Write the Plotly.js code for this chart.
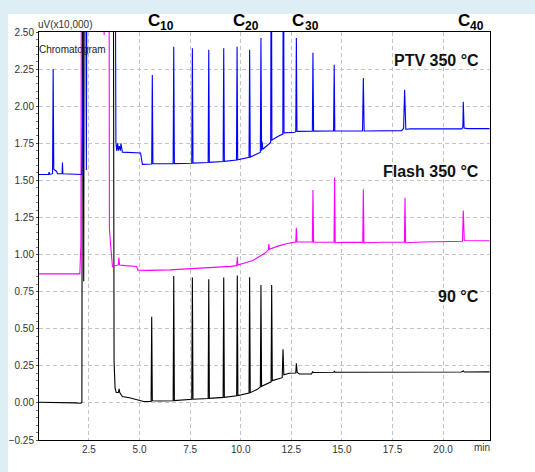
<!DOCTYPE html>
<html>
<head>
<meta charset="utf-8">
<script src="https://cdn.plot.ly/plotly-3.0.1.min.js"></script>
<style>
  html, body { margin: 0; padding: 0; background: #ddeef5; }
  #panel { position: absolute; left: 8px; top: 14px; width: 527px; height: 458px; background: #ffffff; }
  #chart { position: absolute; left: 0; top: 0; width: 535px; height: 472px; }
</style>
</head>
<body>
<div id="panel"></div>
<div id="chart"></div>
<script>
// ---- data (time in min, signal in uV x10,000) ----
// values above 2.5 are off-scale (clipped by the axis range)
const ptvTime = [0, 0.50, 0.53, 0.56, 0.70, 0.73, 0.76, 0.90, 0.95, 1.17, 1.19, 1.21, 2.15, 2.20, 2.33, 2.37, 2.41,
  3.79, 3.83, 3.87, 3.92, 3.95, 4.00, 4.05, 4.08, 4.15, 4.60, 5.05, 5.14,
  5.60, 5.63, 5.66, 6.66, 6.69, 6.72, 7.58, 7.61, 7.64, 8.39, 8.42, 8.45, 9.13, 9.16, 9.19,
  9.79, 9.82, 9.85, 10.41, 10.44, 10.47, 10.90, 10.97, 11.00, 11.03, 11.06, 11.09,
  11.45, 11.48, 11.51, 11.54, 11.90, 12.05, 12.08, 12.11, 12.14, 12.68, 12.72, 12.75, 12.78,
  13.54, 13.57, 13.60, 14.59, 14.62, 14.65, 16.02, 16.06, 16.10, 17.95, 18.05, 18.10, 18.16, 18.40,
  20.93, 20.98, 21.00, 21.04, 21.20, 22.30];
const ptvSignal = [1.54, 1.54, 1.555, 1.54, 1.545, 2.25, 1.575, 1.56, 1.545, 1.545, 1.62, 1.545, 1.54, 3.5, 3.5, 1.57, 3.5,
  3.5, 1.76, 1.70, 1.75, 1.70, 1.73, 1.70, 1.75, 1.69, 1.69, 1.685, 1.608,
  1.61, 2.21, 1.612, 1.612, 2.40, 1.613, 1.615, 2.39, 1.616, 1.62, 2.38, 1.621, 1.627, 2.39, 1.628,
  1.637, 2.40, 1.638, 1.655, 2.38, 1.657, 1.685, 1.69, 2.46, 1.70, 1.76, 1.71,
  1.75, 1.755, 3.5, 1.772, 1.80, 1.81, 1.812, 3.5, 1.82, 1.824, 1.83, 2.46, 1.83,
  1.832, 2.36, 1.832, 1.833, 2.28, 1.833, 1.833, 2.19, 1.833, 1.835, 1.85, 2.11, 1.845, 1.847,
  1.847, 1.86, 2.03, 1.852, 1.849, 1.849];

const flashTime = [0, 1.00, 2.05, 2.08, 2.10, 2.13, 3.22, 3.25, 3.28, 3.49, 3.51, 3.55, 3.60, 3.66, 3.80, 3.95, 3.98, 4.01,
  4.30, 4.85, 4.92, 5.50, 6.50, 7.50, 8.50, 9.50, 9.80, 9.83, 9.86, 10.30, 10.60, 10.90, 11.20,
  11.36, 11.39, 11.42, 11.80, 12.30, 12.72, 12.75, 12.78, 13.54, 13.57, 13.60, 14.00, 14.61, 14.64, 14.67,
  15.00, 16.03, 16.06, 16.09, 17.00, 18.09, 18.12, 18.15, 19.00, 20.96, 21.00, 21.05, 22.30];
const flashSignal = [0.87, 0.872, 0.87, 1.00, 1.05, 3.5, 3.5, 2.48, 3.5, 3.5, 1.18, 1.10, 1.00, 0.918, 0.925, 0.93, 0.98, 0.93,
  0.925, 0.92, 0.895, 0.893, 0.897, 0.903, 0.91, 0.92, 0.925, 0.985, 0.93, 0.945, 0.96, 0.985, 1.01,
  1.03, 1.07, 1.035, 1.055, 1.075, 1.085, 1.18, 1.085, 1.085, 1.435, 1.083, 1.082, 1.083, 1.52, 1.08,
  1.082, 1.082, 1.44, 1.08, 1.083, 1.083, 1.383, 1.08, 1.085, 1.09, 1.296, 1.095, 1.093];

const cold90Time = [0, 1.70, 1.80, 2.10, 2.15, 2.18, 2.21, 2.24, 2.27, 3.70, 3.74, 3.79, 3.85, 3.95, 3.99, 4.02, 4.06,
  4.15, 4.50, 5.00, 5.20, 5.57, 5.60, 5.63, 6.00, 6.66, 6.69, 6.72, 7.58, 7.61, 7.64, 8.39, 8.42, 8.45,
  9.13, 9.16, 9.19, 9.80, 9.83, 9.86, 10.41, 10.44, 10.47, 10.80, 10.97, 11.00, 11.03, 11.50, 11.53, 11.56,
  12.05, 12.09, 12.13, 12.40, 12.72, 12.75, 12.79, 12.90, 13.50, 13.55, 13.60, 14.60, 14.63, 14.66,
  16.00, 17.00, 18.00, 20.90, 21.00, 21.05, 22.30];
const cold90Signal = [0.005, 0.005, 0.0, -0.002, 0.005, 3.5, 3.5, 0.82, 3.5, 3.5, 0.28, 0.10, 0.07, 0.07, 0.095, 0.07, 0.06,
  0.043, 0.035, 0.02, 0.01, 0.01, 0.58, 0.015, 0.013, 0.015, 0.856, 0.016, 0.024, 0.845, 0.025, 0.030, 0.834, 0.031,
  0.037, 0.845, 0.038, 0.048, 0.858, 0.049, 0.067, 0.847, 0.069, 0.09, 0.108, 0.795, 0.112, 0.142, 0.795, 0.150,
  0.17, 0.362, 0.19, 0.20, 0.202, 0.267, 0.205, 0.195, 0.195, 0.21, 0.205, 0.207, 0.215, 0.207,
  0.207, 0.208, 0.208, 0.208, 0.215, 0.208, 0.209];

const xTickStart = 2.5, xTickStep = 2.5;   // tick labels 2.5, 5.0, ... 20.0
const carbonLetter = 'C';
const carbonNumbers = ['10', '20', '30', '40'];
const carbonLabelTime = [5.30, 9.50, 12.44, 20.62];
const runLabels = ['PTV 350 °C', 'Flash 350 °C', '90 °C'];
const runLabelLevel = [2.31, 1.56, 0.714];

const FONT = 'Liberation Sans, Arial, sans-serif';

const traces = [
  { x: cold90Time, y: cold90Signal, mode: 'lines', line: { color: '#000000', width: 1.1 } },
  { x: flashTime, y: flashSignal, mode: 'lines', line: { color: '#ff00ff', width: 1.1 } },
  { x: ptvTime, y: ptvSignal, mode: 'lines', line: { color: '#0000ff', width: 1.1 } }
];

const annotations = [];
carbonNumbers.forEach((n, i) => {
  annotations.push({
    text: '<b>' + carbonLetter + '</b>', xref: 'x', yref: 'paper', x: carbonLabelTime[i], y: 1.027,
    xanchor: 'left', yanchor: 'middle', showarrow: false,
    font: { family: FONT, size: 17, color: '#000' }
  });
  annotations.push({
    text: '<b>' + n + '</b>', xref: 'x', yref: 'paper', x: carbonLabelTime[i], y: 1.0135, xshift: 12.5,
    xanchor: 'left', yanchor: 'middle', showarrow: false,
    font: { family: FONT, size: 12, color: '#000' }
  });
});
runLabels.forEach((t, i) => annotations.push({
  text: '<b>' + t + '</b>', xref: 'paper', yref: 'y', x: 0.979, y: runLabelLevel[i],
  xanchor: 'right', yanchor: 'middle', showarrow: false,
  font: { family: FONT, size: 16, color: '#111' }
}));
annotations.push({ text: 'uV(x10,000)', xref: 'paper', yref: 'paper', x: -0.006, y: 1.0196,
  xanchor: 'left', yanchor: 'middle', showarrow: false, font: { family: FONT, size: 10, color: '#333' } });
annotations.push({ text: 'Chromatogram', xref: 'paper', yref: 'paper', x: -0.004, y: 0.956,
  xanchor: 'left', yanchor: 'middle', showarrow: false, font: { family: FONT, size: 10, color: '#222' } });
annotations.push({ text: 'min', xref: 'paper', yref: 'paper', x: 0.9816, y: -0.019,
  xanchor: 'center', yanchor: 'middle', showarrow: false, font: { family: FONT, size: 10, color: '#333' } });

const layout = {
  width: 535, height: 472,
  margin: { l: 39, r: 45, t: 32, b: 32, pad: 0 },
  paper_bgcolor: 'rgba(0,0,0,0)', plot_bgcolor: '#ffffff',
  showlegend: false, hovermode: false,
  xaxis: {
    range: [0.03, 22.32], tick0: xTickStart, dtick: xTickStep, tickformat: '.1f',
    showgrid: true, gridcolor: '#c4c4c4', griddash: '4px,3px', gridwidth: 1,
    zeroline: false, showline: true, linecolor: '#000', linewidth: 1, mirror: true,
    ticks: '', tickfont: { family: FONT, size: 10, color: '#333' }
  },
  yaxis: {
    range: [-0.25, 2.5], tick0: 0, dtick: 0.25, tickformat: '.2f',
    showgrid: true, gridcolor: '#c4c4c4', griddash: '4px,3px', gridwidth: 1,
    zeroline: false, showline: true, linecolor: '#000', linewidth: 1, mirror: true,
    ticks: 'outside', ticklen: 2, tickcolor: '#555',
    minor: { ticks: 'outside', ticklen: 2, dtick: 0.05, tickcolor: '#777', showgrid: false },
    tickfont: { family: FONT, size: 10, color: '#333' }
  },
  annotations: annotations
};

Plotly.newPlot('chart', traces, layout, { staticPlot: true, displayModeBar: false });
</script>
</body>
</html>
